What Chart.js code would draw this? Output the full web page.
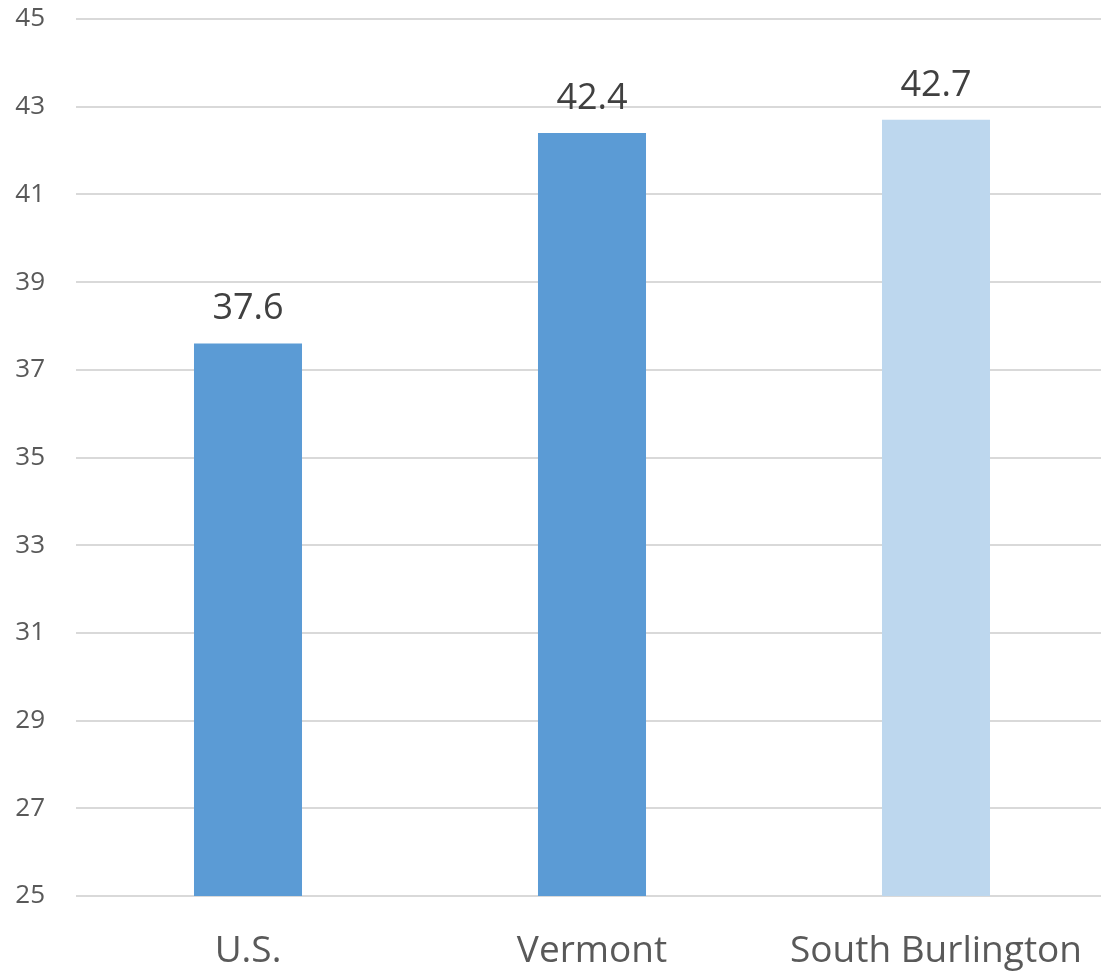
<!DOCTYPE html>
<html>
<head>
<meta charset="utf-8">
<script src="https://cdn.jsdelivr.net/npm/chart.js"></script>
<style>
  html, body { margin: 0; padding: 0; background: #fff; overflow: hidden; }
  #wrap { width: 1108px; height: 972px; position: relative; }
</style>
</head>
<body>
<div id="wrap"><canvas id="myChart"></canvas></div>
<script>
var categories = ['U.S.', 'Vermont', 'South Burlington'];
var values = [37.6, 42.4, 42.7];
var barColors = ['#5B9BD5', '#5B9BD5', '#BDD7EE'];
var yMin = 25, yMax = 45, yStep = 2;

// draw the value above each bar
var valueLabels = {
    id: 'valueLabels',
    afterDatasetsDraw: function (chart) {
        var ctx = chart.ctx;
        var meta = chart.getDatasetMeta(0);
        ctx.save();
        ctx.font = '36px "Open Sans"';
        ctx.fillStyle = '#404040';
        ctx.textAlign = 'center';
        ctx.textBaseline = 'alphabetic';
        meta.data.forEach(function (bar, i) {
            ctx.fillText(values[i].toFixed(1), bar.x, bar.y - 24);
        });
        ctx.restore();
    }
};

var ctx = document.getElementById('myChart').getContext('2d');
var myChart = new Chart(ctx, {
    type: 'bar',
    data: {
        labels: categories,
        datasets: [{
            data: values,
            backgroundColor: barColors,
            barPercentage: 0.314,
            categoryPercentage: 1
        }]
    },
    plugins: [valueLabels],
    options: {
        responsive: true,
        maintainAspectRatio: false,
        animation: false,
        layout: { padding: { left: 14, top: 19, right: 0, bottom: 0 } },
        plugins: {
            legend: { display: false },
            tooltip: { enabled: false }
        },
        scales: {
            x: {
                afterFit: function (scale) {
                    scale.height = 76;
                    scale.paddingLeft = 0;
                    scale.paddingRight = 0;
                },
                grid: { display: false, drawTicks: false },
                border: { display: false },
                ticks: {
                    color: '#595959',
                    font: { family: 'Open Sans', size: 37 },
                    padding: 33,
                    maxRotation: 0
                }
            },
            y: {
                min: yMin,
                max: yMax,
                afterFit: function (scale) {
                    scale.width = 62;
                    scale.paddingTop = 0;
                    scale.paddingBottom = 0;
                },
                grid: { color: '#d9d9d9', lineWidth: 2, drawTicks: false },
                border: { display: false },
                ticks: {
                    stepSize: yStep,
                    color: '#595959',
                    font: { family: 'Open Sans', size: 26 },
                    padding: 31
                }
            }
        }
    }
});
</script>
</body>
</html>
